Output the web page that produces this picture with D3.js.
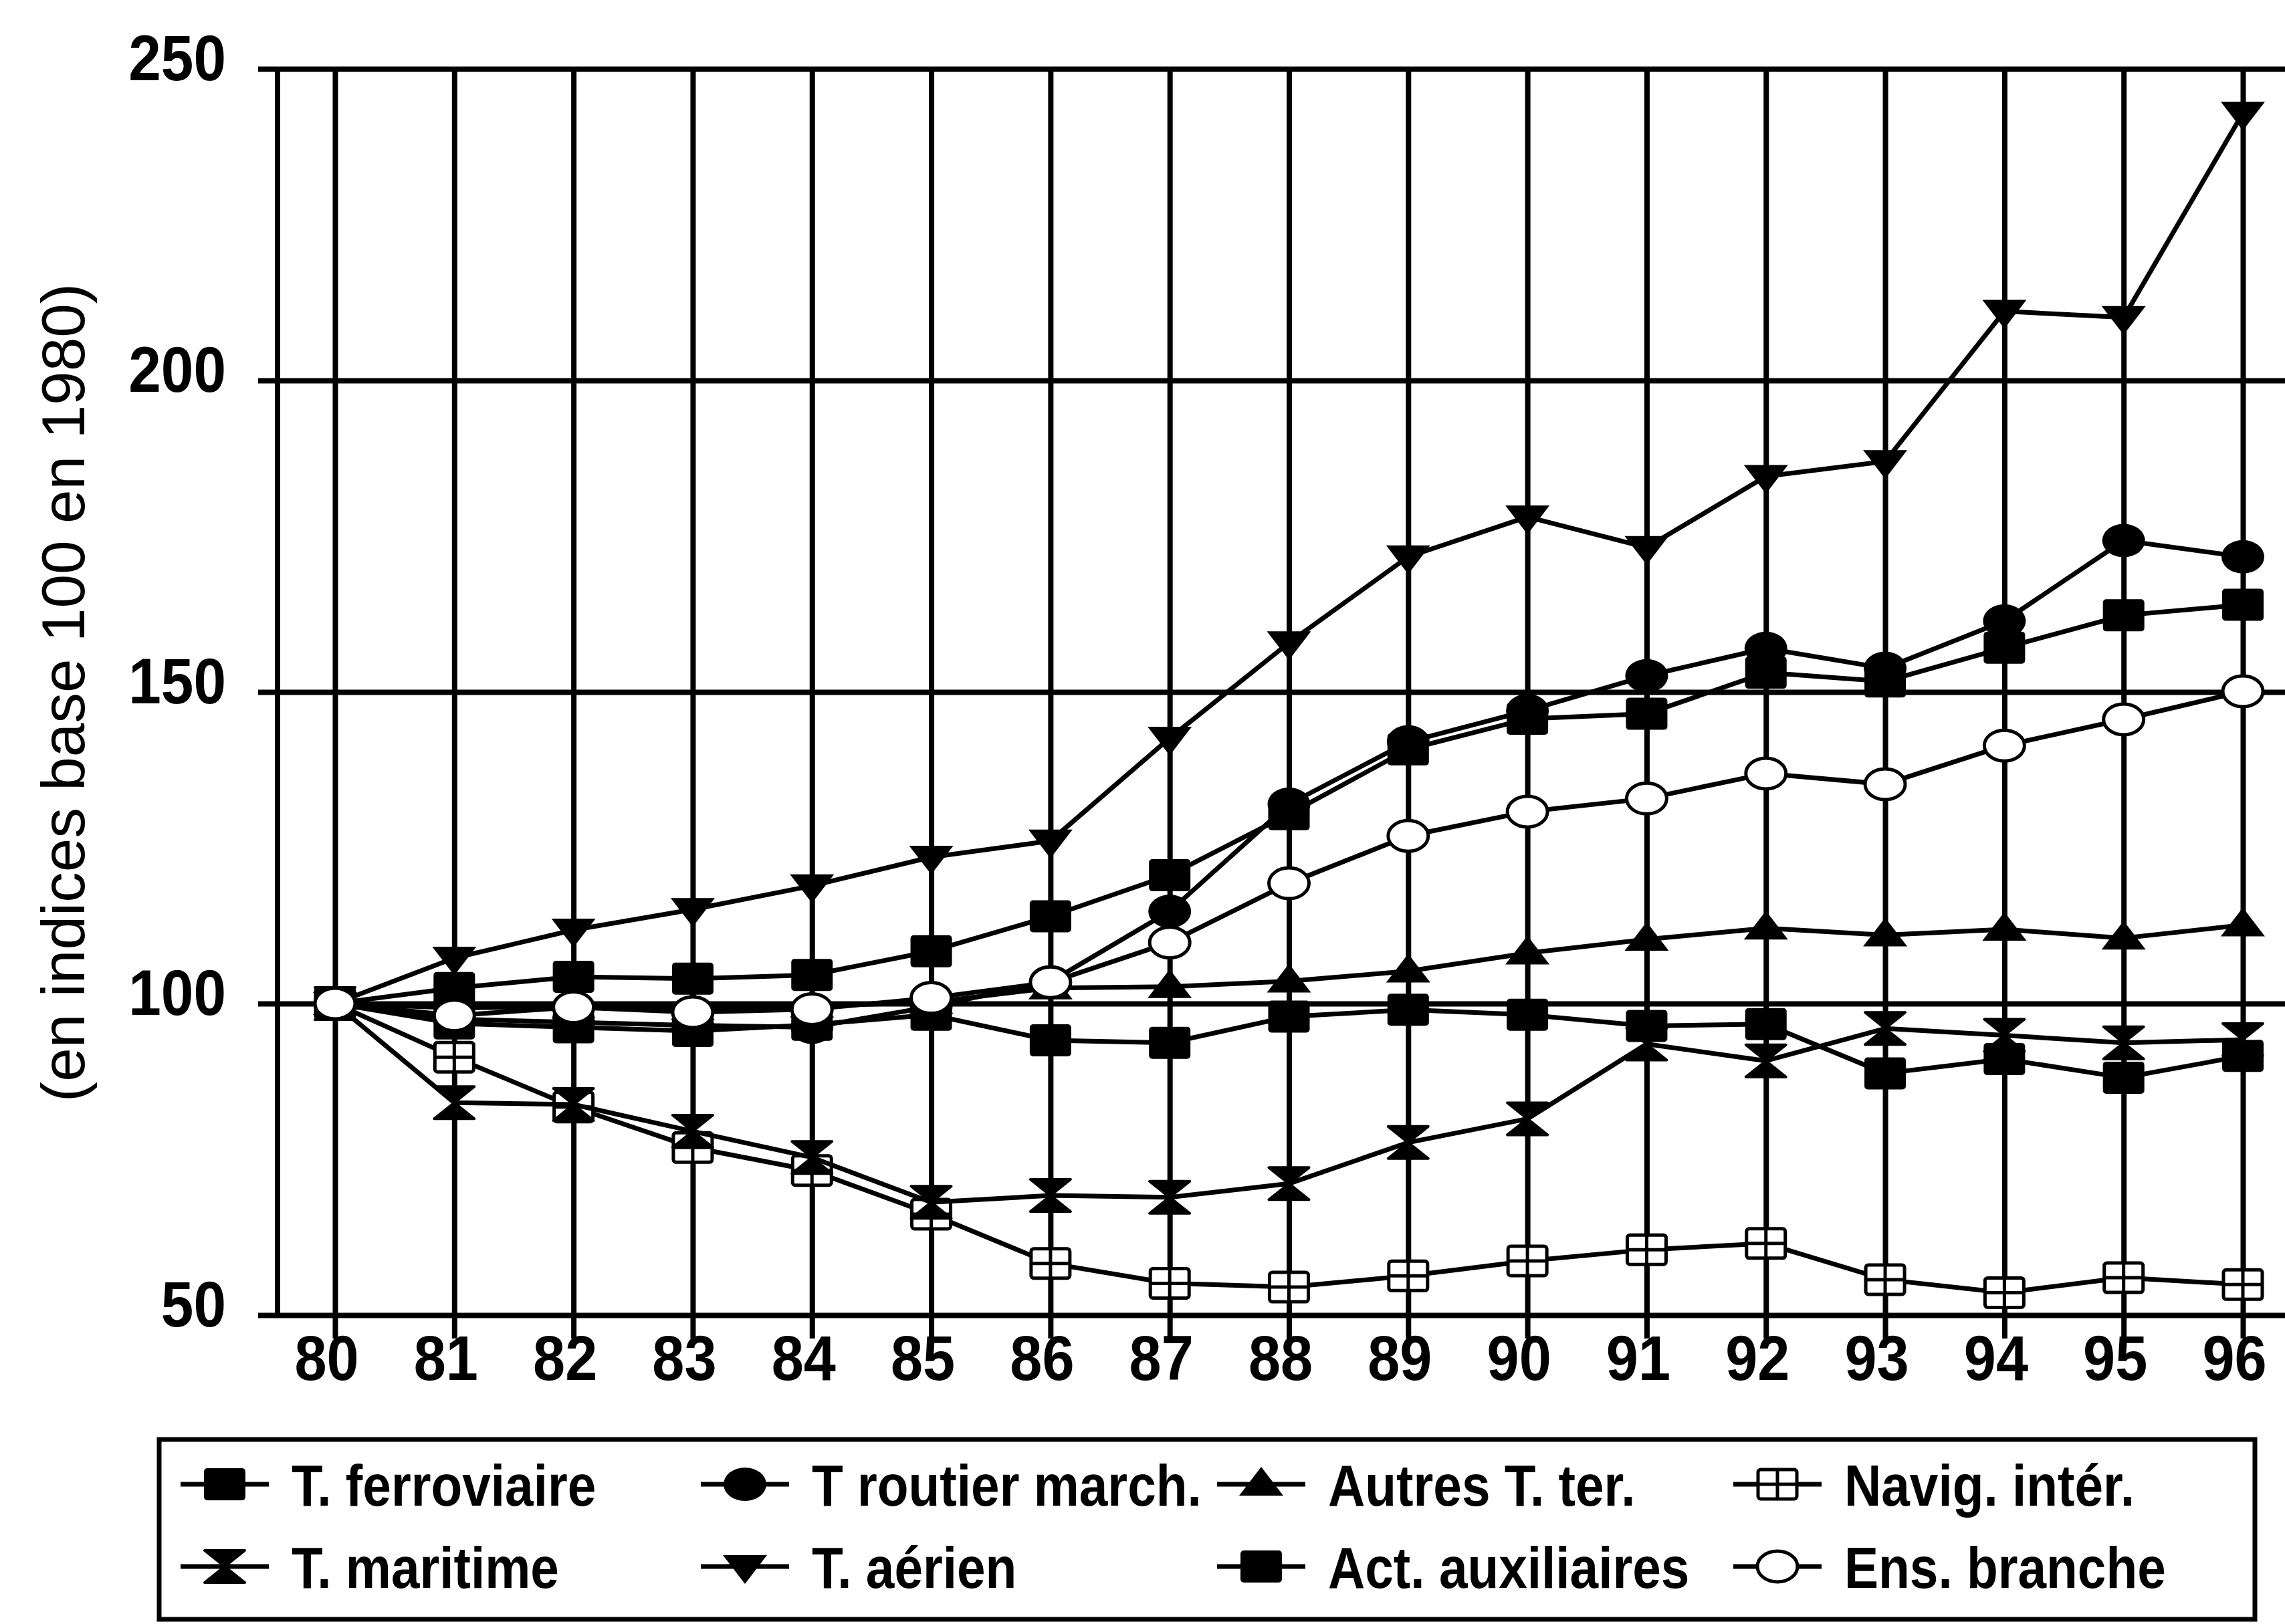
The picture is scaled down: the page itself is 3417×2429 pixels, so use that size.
<!DOCTYPE html>
<html>
<head>
<meta charset="utf-8">
<script src="https://cdn.jsdelivr.net/npm/d3@7/dist/d3.min.js"></script>
<style>
  body { margin: 0; background: #fff; }
  text { font-family: "Liberation Sans", Arial, sans-serif; fill: #000; }
</style>
</head>
<body>
<div id="chart"></div>
<script>
// years (axis labels) and y ticks
const years = [80, 81, 82, 83, 84, 85, 86, 87, 88, 89, 90, 91, 92, 93, 94, 95, 96];
const yTicks = [50, 100, 150, 200, 250];
const yTitle = '(en indices base 100 en 1980)';

// series values, index base 100 in 1980
const ferroviaire = [100, 96.8, 96.2, 95.6, 96.6, 98.2, 94.1, 93.7, 97.9, 99.0, 98.2, 96.4, 96.7, 88.8, 91.1, 88.1, 91.6];
const routier     = [100, 97.5, 97.0, 96.5, 96.2, 99.5, 103.5, 114.8, 132.0, 142.0, 147.0, 152.6, 157.0, 153.8, 161.4, 174.3, 171.7];
const autres      = [100, 99.3, 99.5, 99.2, 99.6, 100.2, 102.5, 102.7, 103.6, 105.2, 108.1, 110.3, 112.1, 111.0, 111.9, 110.5, 112.6];
const navig       = [100, 91.4, 83.4, 76.9, 73.2, 66.2, 58.3, 55.1, 54.5, 56.3, 58.7, 60.5, 61.5, 55.7, 53.6, 56.0, 54.9];
const maritime    = [100, 84.1, 83.8, 79.5, 75.3, 68.1, 69.2, 68.9, 71.1, 77.7, 81.5, 93.5, 90.8, 96.0, 94.9, 93.7, 94.2];
const aerien      = [100, 107.3, 111.8, 115.1, 118.9, 123.5, 126.1, 142.6, 157.9, 171.7, 178.1, 173.2, 184.6, 187.0, 211.1, 210.1, 242.9];
const auxiliaires = [100, 102.5, 104.3, 104.0, 104.6, 108.4, 114.0, 120.6, 130.4, 140.8, 145.7, 146.5, 153.1, 151.7, 157.1, 162.3, 164.0];
const branche     = [100, 98.1, 99.4, 98.6, 99.1, 100.9, 103.4, 109.8, 119.3, 126.9, 130.8, 132.9, 136.9, 135.2, 141.4, 145.6, 150.1];

const series = [
	{ name: 'T. ferroviaire', values: ferroviaire, marker: 'square' },
	{ name: 'T routier march.', values: routier, marker: 'circle' },
	{ name: 'Autres T. ter.', values: autres, marker: 'triangleUp' },
	{ name: 'Navig. intér.', values: navig, marker: 'boxCross' },
	{ name: 'T. maritime', values: maritime, marker: 'hourglass' },
	{ name: 'T. aérien', values: aerien, marker: 'triangleDown' },
	{ name: 'Act. auxiliaires', values: auxiliaires, marker: 'square' },
	{ name: 'Ens. branche', values: branche, marker: 'openCircle' }
];

const width = 3417,
	height = 2429;

var x = d3.scaleLinear().domain([80, 96]).range([501, 3354]);
var y = d3.scaleLinear().domain([50, 250]).range([1967, 103]);

const axisX = 415,
	gridLeft = 386,
	gridRight = width,
	tickBottom = 2002,
	gridWidth = 8;

var svg = d3
	.select('#chart')
	.append('svg')
	.attr('width', width)
	.attr('height', height)
	.style('background', '#fff');

// horizontal grid (from the left axis)
var yAxis = d3
	.axisLeft(y)
	.tickValues(yTicks)
	.tickSize(0)
	.tickPadding(0)
	.tickFormat(d3.format('d'));

var gy = svg
	.append('g')
	.attr('transform', 'translate(' + axisX + ',0)')
	.call(yAxis);
gy.select('.domain').remove();
gy.selectAll('.tick text')
	.attr('x', 0)
	.attr('y', 0)
	.attr('dy', 0)
	.attr('transform', 'translate(' + (338 - axisX) + ',16) scale(0.91,1)')
	.attr('text-anchor', 'end')
	.style('font-size', '96px')
	.style('font-weight', 'bold')
	.style('font-family', '"Liberation Sans", Arial, sans-serif');
gy.selectAll('.tick')
	.append('line')
	.attr('x1', gridLeft - axisX)
	.attr('x2', gridRight - axisX)
	.attr('stroke', '#000')
	.attr('stroke-width', gridWidth);

// vertical grid (from the bottom axis)
var xAxis = d3
	.axisBottom(x)
	.tickValues(years)
	.tickSize(0)
	.tickPadding(0)
	.tickFormat(d3.format('d'));

var gx = svg
	.append('g')
	.attr('transform', 'translate(0,' + y(50) + ')')
	.call(xAxis);
gx.select('.domain').remove();
gx.selectAll('.tick text')
	.attr('y', 0)
	.attr('dy', 0)
	.attr('transform', 'translate(-13,' + (2064 - y(50)) + ') scale(0.91,1)')
	.attr('text-anchor', 'middle')
	.style('font-size', '95px')
	.style('font-weight', 'bold')
	.style('font-family', '"Liberation Sans", Arial, sans-serif');
gx.selectAll('.tick')
	.append('line')
	.attr('y1', y(250) - y(50))
	.attr('y2', tickBottom - y(50))
	.attr('stroke', '#000')
	.attr('stroke-width', gridWidth);

// left axis line
svg.append('line')
	.attr('x1', axisX)
	.attr('x2', axisX)
	.attr('y1', y(250))
	.attr('y2', y(50))
	.attr('stroke', '#000')
	.attr('stroke-width', gridWidth);

// y title
svg.append('text')
	.attr('transform', 'translate(126,1036) rotate(-90)')
	.attr('text-anchor', 'middle')
	.style('font-size', '91px')
	.text(yTitle);

// marker drawing
function drawMarker(g, type) {
	if (type === 'square') {
		g.append('rect')
			.attr('x', -31).attr('y', -24)
			.attr('width', 62).attr('height', 48)
			.attr('rx', 5)
			.attr('fill', '#000');
	} else if (type === 'circle') {
		g.append('ellipse')
			.attr('rx', 32).attr('ry', 25)
			.attr('fill', '#000');
	} else if (type === 'openCircle') {
		g.append('ellipse')
			.attr('rx', 30).attr('ry', 23)
			.attr('fill', '#fff')
			.attr('stroke', '#000')
			.attr('stroke-width', 5);
	} else if (type === 'triangleUp') {
		g.append('path')
			.attr('d', 'M0,-26L33,17L-33,17Z')
			.attr('fill', '#000');
	} else if (type === 'triangleDown') {
		g.append('path')
			.attr('d', 'M0,26L33,-17L-33,-17Z')
			.attr('fill', '#000');
	} else if (type === 'hourglass') {
		g.append('path')
			.attr('d', 'M-30,-24L30,-24L0,0ZM-30,24L30,24L0,0Z')
			.attr('fill', '#000')
			.attr('stroke', '#000')
			.attr('stroke-width', 4)
			.attr('stroke-linejoin', 'round');
	} else if (type === 'boxCross') {
		g.append('rect')
			.attr('x', -29).attr('y', -22)
			.attr('width', 58).attr('height', 44)
			.attr('rx', 4)
			.attr('fill', '#fff')
			.attr('stroke', '#000')
			.attr('stroke-width', 5);
		g.append('path')
			.attr('d', 'M0,-22V22M-29,0H29')
			.attr('stroke', '#000')
			.attr('stroke-width', 5);
	}
}

var line = d3
	.line()
	.x(function(d, i) { return x(years[i]); })
	.y(function(d) { return y(d); });

var plot = svg.append('g').attr('class', 'series');

series.forEach(function(s) {
	var g = plot.append('g');
	g.append('path')
		.attr('d', line(s.values))
		.attr('fill', 'none')
		.attr('stroke', '#000')
		.attr('stroke-width', 7)
		.attr('stroke-linejoin', 'round');
	g.selectAll('.pt')
		.data(s.values)
		.enter()
		.append('g')
		.attr('class', 'pt')
		.attr('transform', function(d, i) {
			return 'translate(' + x(years[i]) + ',' + y(d) + ')';
		})
		.each(function() {
			drawMarker(d3.select(this), s.marker);
		});
});

// legend
var legend = svg.append('g').attr('class', 'legend');
legend.append('rect')
	.attr('x', 238)
	.attr('y', 2153)
	.attr('width', 3372 - 238)
	.attr('height', 2422 - 2153)
	.attr('fill', 'none')
	.attr('stroke', '#000')
	.attr('stroke-width', 7);

const legendCols = [336, 1114, 1886, 2658];
const legendRows = [2220, 2343];

var items = legend
	.selectAll('.item')
	.data(series)
	.enter()
	.append('g')
	.attr('class', 'item')
	.attr('transform', function(d, i) {
		return 'translate(' + legendCols[i % 4] + ',' + legendRows[Math.floor(i / 4)] + ')';
	});

items.append('line')
	.attr('x1', -66)
	.attr('x2', 66)
	.attr('stroke', '#000')
	.attr('stroke-width', 7);
items.each(function(d) {
	drawMarker(d3.select(this), d.marker);
});
items.append('text')
	.attr('transform', 'translate(100,32) scale(0.87,1)')
	.style('font-size', '88px')
	.style('font-weight', 'bold')
	.text(function(d) { return d.name; });
</script>
</body>
</html>
